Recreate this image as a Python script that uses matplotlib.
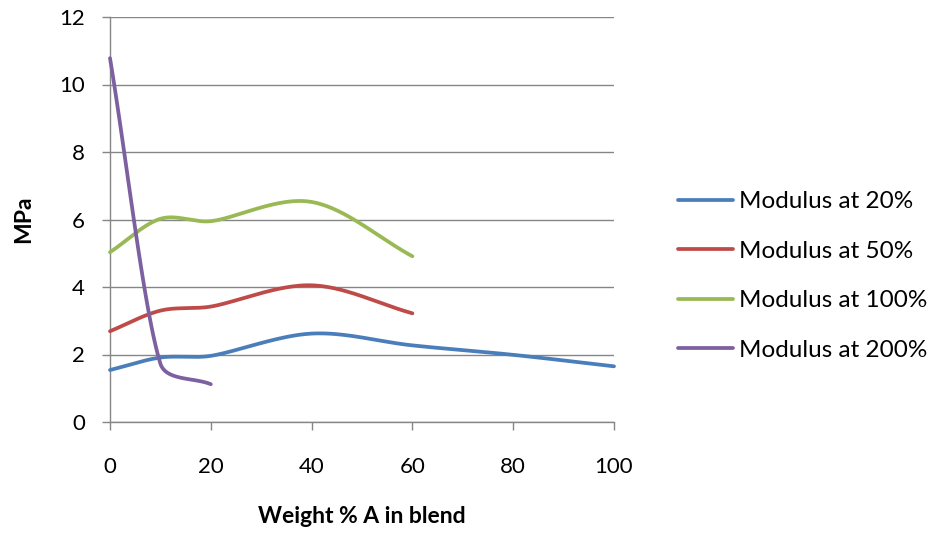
import numpy as np
import matplotlib
matplotlib.use("Agg")
import matplotlib.pyplot as plt

x20 = [0, 10, 20, 40, 60, 80, 100]
y20 = [1.54, 1.91, 1.96, 2.62, 2.27, 1.99, 1.65]
x50 = [0, 10, 20, 40, 60]
y50 = [2.69, 3.30, 3.42, 4.05, 3.22]
x100 = [0, 10, 20, 40, 60]
y100 = [5.03, 6.02, 5.95, 6.52, 4.91]
x200 = [0, 10, 20]
y200 = [10.78, 1.73, 1.12]

labels = ["Modulus at 20%", "Modulus at 50%", "Modulus at 100%", "Modulus at 200%"]
colors = ["#4A7EBB", "#BE4B48", "#98B954", "#7D60A0"]
xticks = [0, 20, 40, 60, 80, 100]
yticks = [0, 2, 4, 6, 8, 10, 12]

W, H = 938, 535
fig = plt.figure(figsize=(W / 100, H / 100), dpi=100)
L, R, T, B = 110, 614, 17, 422
ax = fig.add_axes([L / W, 1 - B / H, (R - L) / W, (B - T) / H])
ax.set_xlim(0, 100)
ax.set_ylim(0, 12)

font = "Lato"


def smooth(xs, ys):
    # Excel-like smoothed line: cubic Bezier, control lengths capped by segment length
    pts = ax.transData.transform(np.column_stack([xs, ys]))
    n = len(pts)
    d = np.linalg.norm(np.diff(pts, axis=0), axis=1)

    def ctrl(i, seg_len, sign):
        tan = pts[i + 1] - pts[i - 1]
        tl = np.linalg.norm(tan)
        length = min(tl / 6.0, seg_len / 3.0)
        return pts[i] + sign * tan / tl * length

    out = [pts[0]]
    for i in range(n - 1):
        p1, p2 = pts[i], pts[i + 1]
        c1 = ctrl(i, d[i], 1) if i > 0 else p1 + (p2 - p1) / 3.0
        c2 = ctrl(i + 1, d[i], -1) if i + 2 < n else p2 - (p2 - p1) / 3.0
        t = np.linspace(0, 1, 50)[1:, None]
        seg = ((1 - t) ** 3) * p1 + 3 * ((1 - t) ** 2) * t * c1 + 3 * (1 - t) * t ** 2 * c2 + t ** 3 * p2
        out.extend(seg)
    out = np.array(out)
    dd = ax.transData.inverted().transform(out)
    return dd[:, 0], dd[:, 1]


series = [(x20, y20), (x50, y50), (x100, y100), (x200, y200)]
for (xs, ys), lab, c in zip(series, labels, colors):
    sx, sy = smooth(xs, ys)
    ax.plot(sx, sy, color=c, lw=2.7, label=lab, solid_capstyle="round", clip_on=False, zorder=3)

ax.set_xticks(xticks)
ax.set_yticks(yticks)
ax.grid(axis="y", color="#868686", lw=1.0)
ax.set_axisbelow(True)
for s in ["top", "right"]:
    ax.spines[s].set_visible(False)
for s in ["left", "bottom"]:
    ax.spines[s].set_color("#868686")
    ax.spines[s].set_linewidth(1.0)
ax.tick_params(axis="both", direction="out", length=6, color="#868686", width=1.0,
               labelsize=16, labelcolor="#000000")
ax.tick_params(axis="x", pad=19)
ax.tick_params(axis="y", pad=12)
for lbl in ax.get_xticklabels() + ax.get_yticklabels():
    lbl.set_fontfamily(font)

ax.set_xlabel("Weight % A in blend", fontsize=16.5, fontweight="bold", family=font, labelpad=21)
ax.set_ylabel("MPa", fontsize=16.5, fontweight="bold", family=font, labelpad=18)

leg = ax.legend(loc="center left", bbox_to_anchor=((678 - L) / (R - L), (B - 276) / (B - T)),
                frameon=False, prop={"family": font, "size": 17.5}, handlelength=2.25,
                handletextpad=0.28, labelspacing=1.17, borderaxespad=0, borderpad=0)

fig.savefig("out.png", dpi=100)
